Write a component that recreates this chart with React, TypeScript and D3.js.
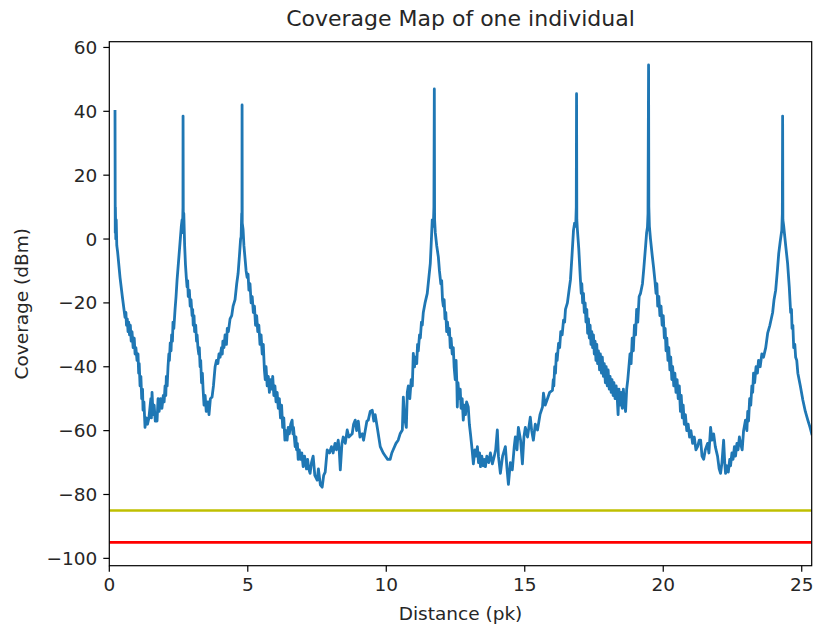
import React from "react";
import * as d3 from "d3";

// Coverage traces, section by section (distance pk, coverage dBm)
const sectionA: [number, number][] = [
  [0.206, 40], [0.215, 2], [0.22, 10], [0.235, 0], [0.25, 6], [0.27, -2], [0.3, -4], [0.387, -12],
  [0.47, -18], [0.567, -24.5], [0.6, -23], [0.62, -27], [0.65, -25], [0.676, -29], [0.7, -26],
  [0.73, -30], [0.76, -27], [0.79, -32], [0.82, -29], [0.86, -34], [0.9, -31], [0.93, -36], [0.96, -34],
  [1.0, -38], [1.037, -36], [1.06, -42], [1.08, -39], [1.11, -46], [1.14, -43], [1.17, -50], [1.2, -47],
  [1.218, -53.6], [1.25, -51], [1.29, -59], [1.33, -56], [1.38, -58], [1.43, -56], [1.5, -50],
  [1.52, -56], [1.543, -48], [1.579, -55], [1.62, -52], [1.66, -57], [1.724, -57], [1.76, -50],
  [1.8, -54], [1.85, -50], [1.9, -53], [1.95, -49], [1.98, -51], [2.013, -46], [2.04, -49], [2.06, -43],
  [2.09, -46], [2.12, -40], [2.15, -36], [2.17, -38], [2.2, -32.5], [2.23, -35], [2.25, -30], [2.28, -32],
  [2.3, -26], [2.33, -28], [2.374, -22], [2.41, -18], [2.447, -12.8], [2.5, -7], [2.555, -1],
  [2.6, 4], [2.627, 6], [2.64, 2], [2.66, 10], [2.663, 38.5], [2.672, 5], [2.69, 8], [2.72, -2],
];
const sectionB: [number, number][] = [
  [2.75, -8], [2.78, -12], [2.808, -15], [2.83, -13], [2.85, -18], [2.89, -16], [2.92, -21], [2.95, -19],
  [2.989, -24], [3.01, -22], [3.03, -27], [3.06, -24], [3.08, -29], [3.12, -27], [3.15, -32], [3.17, -30],
  [3.2, -34], [3.23, -36], [3.25, -34], [3.278, -40], [3.3, -38], [3.33, -45], [3.36, -42], [3.386, -47],
  [3.42, -52], [3.46, -49], [3.5, -54], [3.53, -53.6], [3.56, -51], [3.6, -55], [3.65, -50], [3.71, -49.5],
  [3.76, -46], [3.8, -42], [3.82, -40], [3.87, -38], [3.92, -39], [3.96, -36], [4.0, -37], [4.05, -34],
  [4.08, -36], [4.1, -32], [4.14, -34], [4.18, -30], [4.23, -33], [4.26, -28], [4.3, -29], [4.36, -25],
  [4.42, -24], [4.47, -21], [4.54, -19], [4.6, -14], [4.65, -10.8], [4.7, -5],
  [4.74, 0], [4.76, 0.7], [4.78, 8], [4.79, 2], [4.794, 42], [4.8, 5], [4.83, 3], [4.86, -2],
];
const sectionC: [number, number][] = [
  [4.9, -6], [4.94, -10], [4.975, -12], [5.01, -11], [5.04, -16], [5.08, -14], [5.12, -20], [5.16, -18],
  [5.2, -23], [5.24, -21], [5.28, -27], [5.32, -24], [5.36, -29], [5.4, -27], [5.44, -33], [5.48, -30],
  [5.52, -36], [5.56, -33], [5.6, -41], [5.63, -44], [5.66, -40], [5.7, -46], [5.74, -43], [5.78, -48],
  [5.82, -44], [5.86, -47], [5.9, -43], [5.94, -49], [5.98, -46], [6.02, -51], [6.06, -48], [6.1, -53],
  [6.14, -50], [6.18, -56], [6.22, -52], [6.26, -59], [6.3, -56], [6.34, -63], [6.38, -60],
  [6.42, -63], [6.46, -59], [6.5, -61], [6.55, -58], [6.6, -56.7], [6.63, -61], [6.65, -59], [6.71, -65],
  [6.74, -62], [6.76, -66], [6.79, -64], [6.82, -69], [6.86, -66], [6.9, -69], [6.95, -67], [7.0, -71.3],
  [7.05, -68], [7.12, -72], [7.16, -69], [7.2, -72], [7.25, -73.4], [7.3, -70],
  [7.36, -68], [7.42, -74], [7.505, -75.5], [7.55, -72], [7.62, -77], [7.686, -77.7], [7.74, -74],
  [7.795, -73], [7.867, -66], [7.95, -67], [8.02, -65], [8.08, -67], [8.15, -64], [8.2, -66],
  [8.265, -63], [8.3, -66], [8.34, -72.3], [8.4, -64], [8.446, -62], [8.52, -64], [8.59, -59.8],
  [8.65, -62], [8.77, -61], [8.82, -58], [8.88, -56.7], [8.93, -60], [8.99, -57], [9.05, -62],
  [9.133, -61], [9.18, -63], [9.24, -60], [9.3, -57], [9.35, -56.7], [9.42, -54], [9.494, -53.6],
  [9.55, -57], [9.6, -55], [9.675, -59], [9.783, -65], [9.89, -67], [9.97, -68], [10.05, -69],
  [10.14, -69], [10.2, -67], [10.25, -66], [10.35, -64], [10.43, -63], [10.5, -61], [10.58, -59.8],
  [10.616, -49.5], [10.66, -56], [10.724, -59], [10.76, -48], [10.796, -46], [10.85, -50],
  [10.9, -44], [10.94, -46], [10.976, -35.8], [11.02, -40], [11.05, -37], [11.1, -39], [11.13, -33],
  [11.157, -35], [11.2, -30], [11.23, -31], [11.27, -26], [11.3, -27], [11.337, -23], [11.4, -20],
  [11.48, -17], [11.55, -11], [11.59, -7.6],
  [11.63, 0], [11.66, 6], [11.7, 4], [11.72, 10], [11.735, 47], [11.745, 6], [11.77, 2], [11.82, -2],
];
const sectionD: [number, number][] = [
  [11.88, -5.6], [11.92, -10], [11.97, -14], [12.0, -13], [12.03, -19], [12.06, -21], [12.09, -19],
  [12.12, -25], [12.15, -23], [12.18, -29], [12.21, -26], [12.25, -30], [12.28, -28], [12.31, -34],
  [12.34, -31], [12.38, -36], [12.42, -34], [12.45, -40], [12.49, -44], [12.52, -38], [12.55, -46],
  [12.565, -52.6], [12.59, -45], [12.63, -50], [12.67, -47], [12.7, -53], [12.74, -50], [12.78, -56.7],
  [12.82, -52], [12.86, -55], [12.9, -51], [12.96, -52.6], [13.0, -58], [13.04, -61], [13.1, -66],
  [13.145, -70.4], [13.2, -66], [13.25, -68], [13.29, -65], [13.33, -70], [13.37, -67], [13.4, -71.3],
  [13.45, -68], [13.5, -71], [13.54, -69], [13.58, -71.3], [13.63, -68], [13.7, -70], [13.76, -67],
  [13.83, -70.4], [13.9, -68], [13.95, -66], [14.01, -59.8], [14.05, -68], [14.12, -73.4], [14.2, -68],
  [14.3, -65], [14.36, -72], [14.41, -76.8], [14.48, -70], [14.55, -72.3], [14.62, -65], [14.66, -62],
  [14.72, -66], [14.77, -59], [14.85, -63], [14.915, -70.4], [14.97, -62], [15.02, -59], [15.1, -62],
  [15.2, -55.8], [15.25, -60], [15.31, -63], [15.38, -58], [15.46, -59.8], [15.55, -55], [15.64, -52.6],
  [15.675, -48.3], [15.74, -52], [15.82, -50], [15.9, -48], [16.0, -47.4], [16.03, -44], [16.05, -46],
  [16.08, -40], [16.11, -42], [16.14, -36], [16.17, -38], [16.22, -32.7], [16.26, -34], [16.3, -29],
  [16.35, -30], [16.4, -25.4], [16.44, -26], [16.47, -22], [16.54, -20], [16.6, -16],
  [16.65, -12.8], [16.7, -6], [16.76, 2.8], [16.8, 5], [16.84, 4], [16.86, 10], [16.87, 45.5],
  [16.88, 6], [16.9, 3], [16.95, -3],
];
const sectionE: [number, number][] = [
  [17.01, -12.8], [17.04, -17], [17.06, -14], [17.09, -20], [17.12, -17], [17.15, -23], [17.18, -20],
  [17.21, -26], [17.24, -22], [17.27, -29.5], [17.3, -25], [17.33, -31], [17.36, -27], [17.39, -33],
  [17.42, -29], [17.45, -34], [17.48, -30], [17.51, -36], [17.54, -32], [17.57, -38], [17.6, -33],
  [17.63, -39], [17.66, -35], [17.7, -41], [17.73, -36], [17.77, -42], [17.8, -37], [17.84, -43],
  [17.87, -39], [17.91, -45], [17.94, -40], [17.98, -46], [18.01, -41], [18.05, -47], [18.08, -43],
  [18.12, -48], [18.15, -44], [18.19, -49], [18.22, -45], [18.26, -50], [18.3, -46], [18.34, -50],
  [18.37, -55], [18.4, -47], [18.44, -52], [18.48, -48], [18.52, -53], [18.56, -47], [18.6, -52],
  [18.64, -54], [18.68, -47], [18.72, -44], [18.76, -40], [18.8, -36], [18.84, -39], [18.88, -31],
  [18.92, -35], [18.96, -27], [19.0, -30], [19.04, -22], [19.08, -26], [19.13, -18], [19.18, -17],
  [19.25, -14], [19.3, -9], [19.36, -2.5], [19.4, 2], [19.43, 3.7], [19.45, 8],
  [19.47, 54.5], [19.48, 10], [19.5, 4], [19.54, 0],
];
const sectionF: [number, number][] = [
  [19.6, -5], [19.65, -8.8], [19.7, -13], [19.74, -17], [19.77, -14], [19.8, -21], [19.84, -18],
  [19.88, -24], [19.92, -21], [19.96, -27], [20.0, -24], [20.04, -31], [20.07, -28], [20.1, -35],
  [20.13, -31], [20.17, -38], [20.2, -34], [20.24, -41], [20.27, -37], [20.31, -44], [20.34, -40],
  [20.38, -46], [20.42, -42], [20.46, -48], [20.5, -44], [20.54, -50], [20.58, -46], [20.62, -54],
  [20.65, -49], [20.69, -56], [20.72, -52], [20.76, -58], [20.8, -55], [20.85, -60], [20.9, -58],
  [20.95, -62], [21.0, -60], [21.06, -64], [21.12, -62], [21.18, -66], [21.24, -65], [21.3, -63],
  [21.35, -63], [21.4, -68], [21.46, -69],
  [21.52, -66], [21.6, -64], [21.65, -67], [21.71, -59], [21.76, -63], [21.82, -61], [21.88, -65],
  [21.96, -68], [22.02, -72], [22.07, -73.4], [22.12, -70], [22.18, -63], [22.22, -70], [22.25, -73.4],
  [22.3, -71], [22.35, -73], [22.4, -69], [22.43, -71], [22.48, -67], [22.52, -69], [22.57, -65],
  [22.61, -68], [22.66, -64], [22.7, -66], [22.75, -62], [22.79, -64], [22.85, -66],
  [22.9, -60], [22.97, -56.7], [23.02, -60], [23.05, -54], [23.08, -57], [23.12, -50], [23.16, -52],
  [23.2, -46], [23.23, -48], [23.26, -42], [23.3, -45], [23.35, -40], [23.4, -42], [23.44, -38],
  [23.5, -40], [23.56, -36], [23.62, -37], [23.7, -34], [23.77, -29.5],
  [23.85, -27], [23.95, -23], [24.0, -19], [24.06, -16], [24.12, -10], [24.17, -4.5], [24.22, -1],
  [24.28, 2.8], [24.3, 8], [24.31, 38.5], [24.32, 6], [24.35, 4], [24.42, -2], [24.49, -7.6],
  [24.55, -15], [24.6, -23], [24.63, -22], [24.65, -28], [24.68, -27], [24.71, -34], [24.75, -33],
  [24.78, -37], [24.82, -38], [24.86, -42], [24.95, -46],
  [25.04, -50.4], [25.13, -54], [25.22, -56.7], [25.3, -59], [25.36, -61],
];

const thresholds = [
  { level: -85, color: "#bfbf00" },
  { level: -95, color: "#ff0000" },
];
const xTicks = [0, 5, 10, 15, 20, 25];
const yTicks = [-100, -80, -60, -40, -20, 0, 20, 40, 60];
const xDomain: [number, number] = [0, 25.36];
const yDomain: [number, number] = [-102.3, 61.8];

const W = 813;
const H = 628;
const M = { left: 109.3, right: 811.7, top: 41.7, bottom: 565.7 };
const FONT = "DejaVu Sans, sans-serif";

export default function App() {
  const series = [...sectionA, ...sectionB, ...sectionC, ...sectionD, ...sectionE, ...sectionF];
  const x = d3.scaleLinear().domain(xDomain).range([M.left, M.right]);
  const y = d3.scaleLinear().domain(yDomain).range([M.bottom, M.top]);
  const line = d3
    .line<[number, number]>()
    .x((d) => x(d[0]))
    .y((d) => y(d[1]));
  const tickLen = 6;
  return (
    <svg
      width={W}
      height={H}
      style={{ position: "absolute", left: 0, top: 0, background: "#fff" }}
      fontFamily={FONT}
    >
      <defs>
        <clipPath id="plotclip">
          <rect x={M.left} y={M.top} width={M.right - M.left} height={M.bottom - M.top} />
        </clipPath>
      </defs>
      <g clipPath="url(#plotclip)">
        <path d={line(series) ?? ""} fill="none" stroke="#1f77b4" strokeWidth={2.8} strokeLinejoin="round" strokeLinecap="square" />
        {thresholds.map((t) => (
          <line key={t.level} x1={x(xDomain[0])} x2={x(xDomain[1])} y1={y(t.level)} y2={y(t.level)} stroke={t.color} strokeWidth={2.6} />
        ))}
      </g>
      <rect x={M.left} y={M.top} width={M.right - M.left} height={M.bottom - M.top} fill="none" stroke="#000" strokeWidth={1.2} />
      {xTicks.map((t) => (
        <g key={"x" + t}>
          <line x1={x(t)} x2={x(t)} y1={M.bottom} y2={M.bottom + tickLen} stroke="#000" strokeWidth={1.2} />
          <text x={x(t)} y={M.bottom + tickLen + 6} textAnchor="middle" dominantBaseline="hanging" fontSize={18.5} fill="#262626">
            {t}
          </text>
        </g>
      ))}
      {yTicks.map((t) => (
        <g key={"y" + t}>
          <line x1={M.left - tickLen} x2={M.left} y1={y(t)} y2={y(t)} stroke="#000" strokeWidth={1.2} />
          <text x={M.left - tickLen - 6} y={y(t)} textAnchor="end" dominantBaseline="central" fontSize={18.5} fill="#262626">
            {t < 0 ? "\u2212" + Math.abs(t) : t}
          </text>
        </g>
      ))}
      <text x={(M.left + M.right) / 2} y={26} textAnchor="middle" fontSize={22} fill="#262626">
        Coverage Map of one individual
      </text>
      <text x={(M.left + M.right) / 2} y={620} textAnchor="middle" fontSize={18.5} fill="#262626">
        Distance (pk)
      </text>
      <text
        transform={`translate(28, ${(M.top + M.bottom) / 2}) rotate(-90)`}
        textAnchor="middle"
        fontSize={18.5}
        fill="#262626"
      >
        Coverage (dBm)
      </text>
    </svg>
  );
}
